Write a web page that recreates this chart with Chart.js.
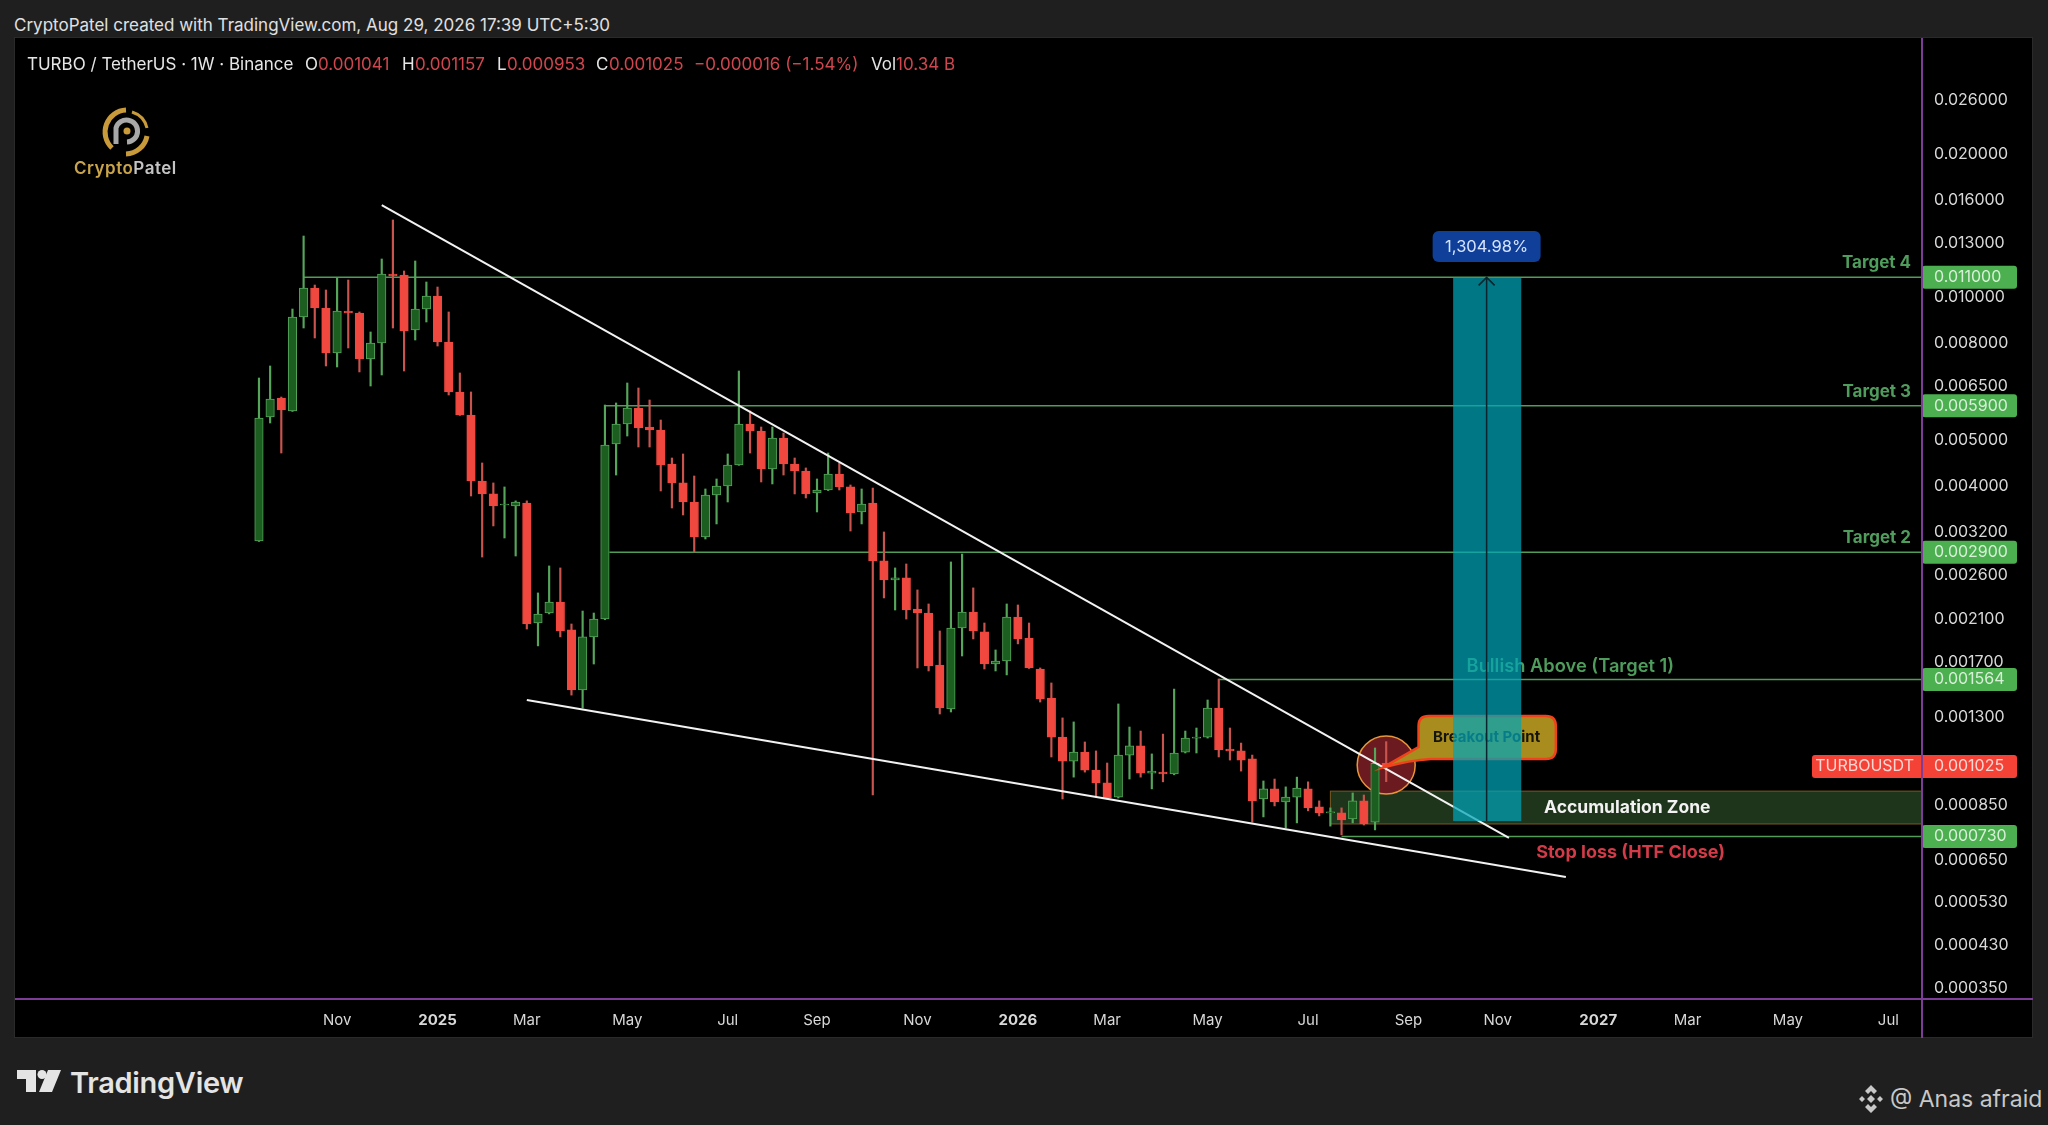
<!DOCTYPE html>
<html>
<head>
<meta charset="utf-8">
<title>TURBO / TetherUS</title>
<script src="https://cdn.jsdelivr.net/npm/chart.js@4/dist/chart.umd.js"></script>
<style>
  html, body { margin: 0; padding: 0; background: #1f1f1f; }
  body { width: 2048px; height: 1125px; position: relative; overflow: hidden; font-family: Inter, sans-serif; }
  #frame { position: absolute; left: 14px; top: 37px; width: 2019px; height: 1001px; background: #000; border: 1px solid #2a2a2a; box-sizing: border-box; }
  #chart { position: absolute; left: 15px; top: 38px; }
  .txt { position: absolute; white-space: nowrap; line-height: 1; }
  .w { color: #e6e6e6; }
  .r { color: #d0464e; }
</style>
</head>
<body>
<div id="frame"></div>
<canvas id="chart" width="2018" height="1000"></canvas>

<div class="txt" style="left:14px;top:17px;font-size:17px;color:#e0e0e0">CryptoPatel created with TradingView.com, Aug 29, 2026 17:39 UTC+5:30</div>

<div class="txt w" style="left:27px;top:56px;font-size:17px">TURBO / TetherUS · 1W · Binance</div>
<div class="txt w" style="left:305px;top:56px;font-size:17px">O</div>
<div class="txt r" style="left:318px;top:56px;font-size:17px">0.001041</div>
<div class="txt w" style="left:402px;top:56px;font-size:17px">H</div>
<div class="txt r" style="left:415px;top:56px;font-size:17px">0.001157</div>
<div class="txt w" style="left:497px;top:56px;font-size:17px">L</div>
<div class="txt r" style="left:507px;top:56px;font-size:17px">0.000953</div>
<div class="txt w" style="left:596px;top:56px;font-size:17px">C</div>
<div class="txt r" style="left:609px;top:56px;font-size:17px">0.001025</div>
<div class="txt r" style="left:694px;top:56px;font-size:17px">−0.000016 (−1.54%)</div>
<div class="txt w" style="left:871px;top:56px;font-size:17px">Vol</div>
<div class="txt r" style="left:896px;top:56px;font-size:17px">10.34 B</div>

<!-- CryptoPatel logo -->
<svg style="position:absolute;left:96px;top:104px" width="60" height="56" viewBox="0 0 60 56">
  <path d="M16 44 A22 22 0 0 1 30 6" fill="none" stroke="#c99a3a" stroke-width="5"/>
  <path d="M30 50 A22 22 0 0 0 51 32" fill="none" stroke="#c99a3a" stroke-width="5"/>
  <path d="M36 8 A22 22 0 0 1 51 24" fill="none" stroke="#c99a3a" stroke-width="3"/>
  <path d="M20 40 L20 24 A11 11 0 1 1 31 38" fill="none" stroke="#a8a8a8" stroke-width="5"/>
  <circle cx="31" cy="27" r="3.5" fill="#c99a3a"/>
</svg>
<div class="txt" style="left:74px;top:160px;font-size:17px;font-weight:600;letter-spacing:.5px"><span style="color:#c9a44a">Crypto</span><span style="color:#c4c4c4">Patel</span></div>

<!-- TradingView logo -->
<svg style="position:absolute;left:17px;top:1070px" width="46" height="22" viewBox="0 0 46 22">
  <path d="M0 0 H19 V22 H9 V9 H0 Z" fill="#e4e4e4"/>
  <circle cx="25" cy="4.5" r="4.5" fill="#e4e4e4"/>
  <path d="M31 0 H44 L35 22 H22 Z" fill="#e4e4e4"/>
</svg>
<div class="txt" style="left:70px;top:1068px;font-size:29px;font-weight:600;color:#e4e4e4;letter-spacing:-.3px">TradingView</div>

<!-- watermark -->
<svg style="position:absolute;left:1857px;top:1084px" width="28" height="30" viewBox="0 0 28 30">
  <path d="M14 1 L20 7 L17 10 L14 7 L11 10 L8 7 Z M14 29 L20 23 L17 20 L14 23 L11 20 L8 23 Z M2 15 L5 12 L8 15 L5 18 Z M26 15 L23 12 L20 15 L23 18 Z M14 11 L18 15 L14 19 L10 15 Z" fill="#c8c8c8"/>
</svg>
<div class="txt" style="left:1890px;top:1088px;font-size:23px;color:#c8c8c8">@ Anas afraid</div>

<script>
// weekly candles, first candle = week 0
const opens = [
  0.003062, 0.005588, 0.006128, 0.005753, 0.009076, 0.010447, 0.009481, 0.007623, 0.009345, 0.009255,
  0.007404, 0.008001, 0.011181, 0.011126, 0.008522, 0.009435, 0.010049, 0.008040, 0.006309, 0.005642,
  0.004097, 0.003847, 0.003646, 0.003629, 0.003682, 0.002057, 0.002159, 0.002278, 0.001989, 0.001486,
  0.001923, 0.002097, 0.004902, 0.005401, 0.005837, 0.005323, 0.005246, 0.004449, 0.004058, 0.003700,
  0.003122, 0.003828, 0.003999, 0.004427, 0.005401, 0.005221, 0.004342, 0.005047, 0.004449, 0.004300,
  0.003865, 0.003922, 0.004238, 0.003980, 0.003525, 0.003682, 0.002780, 0.002535, 0.002560, 0.002202,
  0.002159, 0.001678, 0.001356, 0.002008, 0.002170, 0.001970, 0.001686, 0.001711, 0.002118, 0.001913,
  0.001646, 0.001430, 0.001183, 0.001053, 0.001100, 0.001008, 0.000947, 0.000884, 0.001084, 0.001133,
  0.000993, 0.000998, 0.000989, 0.001100, 0.001177, 0.001183, 0.001362, 0.001116, 0.001106, 0.001064,
  0.000876, 0.000920, 0.000864, 0.000884, 0.000920, 0.000843, 0.000819, 0.000819, 0.000795, 0.000868,
  0.000783, 0.001041
];
const highs = [
  0.006751, 0.007157, 0.006157, 0.009435, 0.013444, 0.010599, 0.010346, 0.010967, 0.010860, 0.009300,
  0.008440, 0.012026, 0.014529, 0.011345, 0.011910, 0.010756, 0.010497, 0.009300, 0.006918, 0.006309,
  0.004471, 0.004058, 0.003980, 0.003720, 0.003720, 0.002380, 0.002713, 0.002687, 0.002047, 0.002180,
  0.002159, 0.005922, 0.005981, 0.006590, 0.006432, 0.006068, 0.005507, 0.004580, 0.004670, 0.004197,
  0.003941, 0.004137, 0.004670, 0.006985, 0.005753, 0.005323, 0.005323, 0.005170, 0.004580, 0.004364,
  0.004137, 0.004692, 0.004471, 0.004018, 0.003941, 0.003960, 0.003199, 0.002687, 0.002739, 0.002415,
  0.002256, 0.001979, 0.002766, 0.002875, 0.002439, 0.002057, 0.001805, 0.002256, 0.002245, 0.002057,
  0.001654, 0.001538, 0.001298, 0.001273, 0.001155, 0.001106, 0.001043, 0.001389, 0.001242, 0.001218,
  0.001090, 0.001200, 0.001493, 0.001218, 0.001236, 0.001416, 0.001568, 0.001236, 0.001149, 0.001084,
  0.000956, 0.000965, 0.000929, 0.000974, 0.000952, 0.000868, 0.000839, 0.000839, 0.000902, 0.000893,
  0.001122, 0.001157
];
const lows = [
  0.003055, 0.005428, 0.004692, 0.005740, 0.008605, 0.008198, 0.007157, 0.007122, 0.007810, 0.006952,
  0.006494, 0.006851, 0.008605, 0.006985, 0.008118, 0.008859, 0.007885, 0.006217, 0.005630, 0.003809,
  0.002833, 0.003294, 0.003107, 0.002847, 0.001998, 0.001841, 0.002150, 0.001923, 0.001450, 0.001362,
  0.001686, 0.002090, 0.004217, 0.005095, 0.004831, 0.004831, 0.003903, 0.003594, 0.003474, 0.002903,
  0.003092, 0.003326, 0.003700, 0.004420, 0.004692, 0.004077, 0.004038, 0.004217, 0.003847, 0.003773,
  0.003525, 0.003910, 0.003922, 0.003214, 0.003326, 0.000893, 0.002323, 0.002191, 0.002097, 0.001654,
  0.001630, 0.001323, 0.001336, 0.001753, 0.001904, 0.001646, 0.001630, 0.001599, 0.001859, 0.001650,
  0.001402, 0.001074, 0.000876, 0.000974, 0.000998, 0.000884, 0.000876, 0.000880, 0.000965, 0.000974,
  0.000920, 0.000952, 0.000985, 0.001095, 0.001095, 0.001177, 0.001074, 0.001058, 0.001003, 0.000783,
  0.000803, 0.000847, 0.000761, 0.000780, 0.000827, 0.000807, 0.000768, 0.000736, 0.000780, 0.000772,
  0.000754, 0.000953
];
const closes = [
  0.005561, 0.006098, 0.005781, 0.009076, 0.010447, 0.009481, 0.007623, 0.009345, 0.009255, 0.007404,
  0.008001, 0.011181, 0.011073, 0.008481, 0.009435, 0.010049, 0.008040, 0.006309, 0.005642, 0.004097,
  0.003847, 0.003629, 0.003664, 0.003700, 0.002047, 0.002149, 0.002278, 0.001979, 0.001486, 0.001923,
  0.002097, 0.004878, 0.005401, 0.005837, 0.005298, 0.005246, 0.004427, 0.004058, 0.003700, 0.003122,
  0.003828, 0.003999, 0.004427, 0.005401, 0.005221, 0.004342, 0.005047, 0.004449, 0.004300, 0.003847,
  0.003922, 0.004238, 0.003980, 0.003508, 0.003664, 0.002780, 0.002535, 0.002560, 0.002191, 0.002159,
  0.001670, 0.001362, 0.002008, 0.002170, 0.001979, 0.001686, 0.001711, 0.002118, 0.001904, 0.001654,
  0.001423, 0.001183, 0.001053, 0.001100, 0.001008, 0.000947, 0.000880, 0.001084, 0.001133, 0.000993,
  0.001003, 0.000989, 0.001095, 0.001177, 0.001183, 0.001362, 0.001111, 0.001106, 0.001058, 0.000868,
  0.000920, 0.000864, 0.000884, 0.000924, 0.000839, 0.000819, 0.000823, 0.000791, 0.000868, 0.000776,
  0.001041, 0.001025
];

const yTicks = [0.026, 0.02, 0.016, 0.013, 0.01, 0.008, 0.0065, 0.005, 0.004, 0.0032, 0.0026, 0.0021,
  0.0017, 0.0013, 0.00085, 0.00065, 0.00053, 0.00043, 0.00035];
const xTickWeeks = [7, 16, 24, 33, 42, 50, 59, 68, 76, 85, 94, 103, 111, 120, 128, 137, 146];
const xTickLabels = ['Nov', '2025', 'Mar', 'May', 'Jul', 'Sep', 'Nov', '2026', 'Mar', 'May', 'Jul', 'Sep', 'Nov', '2027', 'Mar', 'May', 'Jul'];

// horizontal target levels
const levelPrices = [0.011, 0.0059, 0.0029, 0.001564, 0.00073];
const levelStarts = [4, 31, 31.4, 86, 97];
const levelNames = ['Target 4', 'Target 3', 'Target 2', '', ''];
const levelNameY = [0.01179, 0.006307, 0.003105, null, null];

// wedge lines: [week, price]
const upperLine = [[11, 0.015626], [112, 0.000725]];
const lowerLine = [[24, 0.001416], [117.1, 0.0005998]];

const xMin = -21.86, xMax = 149.01, yMin = 0.000332, yMax = 0.03513;
const lastPrice = 0.001025;

const GREEN = '#55a65a', GREEN_FILL = '#1b5e20', RED = '#f0473f', RED_WICK = '#c9544e';
const PURPLE = '#7d3c98', FONT = 'Inter';

function isUp(i) { return closes[i] >= opens[i]; }

function lineData(pairs) {
    return pairs.map(p => ({ x: p[0], y: p[1] }));
}

const levelDatasets = levelPrices.map((p, i) => ({
    type: 'line',
    data: lineData([[levelStarts[i], p], [xMax, p]]),
    borderColor: '#519c57',
    borderWidth: 1.5,
    pointRadius: 0
}));

function text(ctx, str, x, y, font, color, align) {
    ctx.font = font;
    ctx.fillStyle = color;
    ctx.textAlign = align || 'center';
    ctx.textBaseline = 'middle';
    ctx.fillText(str, x, y);
}

function tag(ctx, left, right, y, color) {
    ctx.fillStyle = color;
    ctx.beginPath();
    ctx.roundRect(left, y - 11.5, right - left, 23, 3);
    ctx.fill();
}

const overlays = {
    id: 'overlays',
    beforeDatasetsDraw(chart) {
        const { ctx, scales: { x, y } } = chart;
        // accumulation zone
        const zx = x.getPixelForValue(96), zt = y.getPixelForValue(0.00091), zb = y.getPixelForValue(0.000776);
        ctx.save();
        ctx.fillStyle = '#1f351b';
        ctx.fillRect(zx, zt, chart.chartArea.right - zx, zb - zt);
        ctx.strokeStyle = '#7a5a22';
        ctx.lineWidth = 1;
        ctx.strokeRect(zx, zt, chart.chartArea.right - zx, zb - zt);
        // breakout circle
        ctx.beginPath();
        ctx.arc(x.getPixelForValue(101), y.getPixelForValue(0.001033), 29, 0, Math.PI * 2);
        ctx.fillStyle = '#6b1a20';
        ctx.fill();
        ctx.strokeStyle = '#e8963a';
        ctx.lineWidth = 1.5;
        ctx.stroke();
        ctx.restore();
    },
    afterDatasetsDraw(chart) {
        const { ctx, scales: { x, y }, chartArea } = chart;
        ctx.save();

        // breakout bubble
        const bx0 = x.getPixelForValue(103.9), bx1 = x.getPixelForValue(116.2);
        const by0 = y.getPixelForValue(0.00131), by1 = y.getPixelForValue(0.001063);
        const tx = x.getPixelForValue(100.7), ty = y.getPixelForValue(0.00102), r = 10;
        ctx.beginPath();
        ctx.moveTo(bx0 + r, by0);
        ctx.lineTo(bx1 - r, by0);
        ctx.quadraticCurveTo(bx1, by0, bx1, by0 + r);
        ctx.lineTo(bx1, by1 - r);
        ctx.quadraticCurveTo(bx1, by1, bx1 - r, by1);
        ctx.lineTo(bx0 + 12, by1);
        ctx.quadraticCurveTo(bx0 - 8, by1 + 1, tx, ty);
        ctx.lineTo(bx0, by1 - 12);
        ctx.lineTo(bx0, by0 + r);
        ctx.quadraticCurveTo(bx0, by0, bx0 + r, by0);
        ctx.closePath();
        ctx.fillStyle = '#a98c1e';
        ctx.fill();
        ctx.strokeStyle = '#f0431c';
        ctx.lineWidth = 2.5;
        ctx.stroke();
        text(ctx, 'Breakout Point', x.getPixelForValue(110), y.getPixelForValue(0.001183), '700 15px ' + FONT, '#14140a');

        text(ctx, 'Bullish Above (Target 1)', x.getPixelForValue(117.5), y.getPixelForValue(0.001669), '600 18.3px ' + FONT, '#4f9d5c');
        text(ctx, 'Accumulation Zone', x.getPixelForValue(122.6), y.getPixelForValue(0.000838), '700 17.5px ' + FONT, '#f2f2f2');
        text(ctx, 'Stop loss (HTF Close)', x.getPixelForValue(122.9), y.getPixelForValue(0.000677), '700 18px ' + FONT, '#d33b49');

        // projection box and its arrow
        const px0 = x.getPixelForValue(107), px1 = x.getPixelForValue(113.1);
        const pTop = y.getPixelForValue(0.011), pBot = y.getPixelForValue(0.000787), pMid = x.getPixelForValue(110);
        ctx.fillStyle = 'rgba(0,165,185,0.72)';
        ctx.fillRect(px0, pTop, px1 - px0, pBot - pTop);
        ctx.strokeStyle = '#08242c';
        ctx.lineWidth = 1.5;
        ctx.beginPath();
        ctx.moveTo(pMid, pBot);
        ctx.lineTo(pMid, pTop);
        ctx.moveTo(pMid - 8, pTop + 8);
        ctx.lineTo(pMid, pTop);
        ctx.lineTo(pMid + 8, pTop + 8);
        ctx.stroke();

        // percent pill
        const pillY = y.getPixelForValue(0.012745);
        ctx.fillStyle = '#0f3f99';
        ctx.beginPath();
        ctx.roundRect(pMid - 54, pillY - 16, 108, 31, 6);
        ctx.fill();
        text(ctx, '1,304.98%', pMid, pillY, '400 16.5px ' + FONT, '#d6e4ff');

        // level names
        levelNames.forEach((name, i) => {
            if (name) text(ctx, name, chartArea.right - 11, y.getPixelForValue(levelNameY[i]), '700 17px ' + FONT, '#4f9d5c', 'right');
        });
        ctx.restore();
    },
    afterDraw(chart) {
        const { ctx, scales: { y }, chartArea, width, height } = chart;
        ctx.save();
        const axisX = chartArea.right;

        // price tags on the axis
        levelPrices.forEach(p => {
            const py = y.getPixelForValue(p);
            tag(ctx, axisX, axisX + 95, py, '#4caf50');
            text(ctx, p.toFixed(6), axisX + 12, py, '400 16px ' + FONT, '#d8efd8', 'left');
        });
        const lastY = y.getPixelForValue(lastPrice);
        tag(ctx, axisX - 110, axisX + 95, lastY, '#f44336');
        text(ctx, 'TURBOUSDT', axisX - 8, lastY, '400 16px ' + FONT, '#ffd6d2', 'right');
        text(ctx, lastPrice.toFixed(6), axisX + 12, lastY, '400 16px ' + FONT, '#ffd6d2', 'left');

        // purple axis lines run through to the frame
        ctx.strokeStyle = PURPLE;
        ctx.lineWidth = 2;
        ctx.beginPath();
        ctx.moveTo(axisX, 0);
        ctx.lineTo(axisX, height);
        ctx.moveTo(0, chartArea.bottom);
        ctx.lineTo(width, chartArea.bottom);
        ctx.stroke();
        ctx.restore();
    }
};

function noPadding(scale) {
    scale.paddingTop = scale.paddingBottom = scale.paddingLeft = scale.paddingRight = 0;
}

new Chart(document.getElementById('chart').getContext('2d'), {
    type: 'bar',
    data: {
        datasets: [
            // first dataset paints on top
            { type: 'line', data: lineData(upperLine), borderColor: '#f2f2f2', borderWidth: 2, pointRadius: 0 },
            { type: 'line', data: lineData(lowerLine), borderColor: '#f2f2f2', borderWidth: 2, pointRadius: 0 },
            {
                data: opens.map((o, i) => ({ x: i, y: [o, closes[i]] })),
                backgroundColor: c => isUp(c.dataIndex) ? GREEN_FILL : RED,
                borderColor: c => isUp(c.dataIndex) ? GREEN : RED,
                borderWidth: 1,
                borderSkipped: false,
                barThickness: 8.5,
                grouped: false
            },
            {
                data: lows.map((l, i) => ({ x: i, y: [l, highs[i]] })),
                backgroundColor: c => isUp(c.dataIndex) ? GREEN : RED_WICK,
                borderWidth: 0,
                barThickness: 1.5,
                grouped: false
            },
            ...levelDatasets
        ]
    },
    options: {
        responsive: false,
        animation: false,
        layout: { padding: 0 },
        plugins: { legend: { display: false }, tooltip: { enabled: false } },
        scales: {
            x: {
                type: 'linear',
                offset: false,
                bounds: 'data',
                min: xMin,
                max: xMax,
                grid: { display: false },
                border: { display: false },
                afterFit(scale) { scale.height = 39; noPadding(scale); },
                afterBuildTicks(scale) { scale.ticks = xTickWeeks.map(w => ({ value: w })); },
                ticks: {
                    autoSkip: false,
                    maxRotation: 0,
                    padding: 4,
                    color: '#d8d8d8',
                    font: c => ({
                        family: FONT,
                        size: 15,
                        weight: c.tick && /^\d/.test(c.tick.label) ? '700' : '400'
                    }),
                    callback: v => xTickLabels[xTickWeeks.indexOf(v)]
                }
            },
            y: {
                type: 'logarithmic',
                position: 'right',
                bounds: 'data',
                min: yMin,
                max: yMax,
                grid: { display: false },
                border: { display: false },
                afterFit(scale) { scale.width = 111; noPadding(scale); },
                afterBuildTicks(scale) { scale.ticks = yTicks.map(v => ({ value: v })); },
                ticks: {
                    autoSkip: false,
                    padding: 4,
                    color: '#d8d8d8',
                    font: { family: FONT, size: 16 },
                    callback: v => Number(v).toFixed(6)
                }
            }
        }
    },
    plugins: [overlays]
});
</script>
</body>
</html>
